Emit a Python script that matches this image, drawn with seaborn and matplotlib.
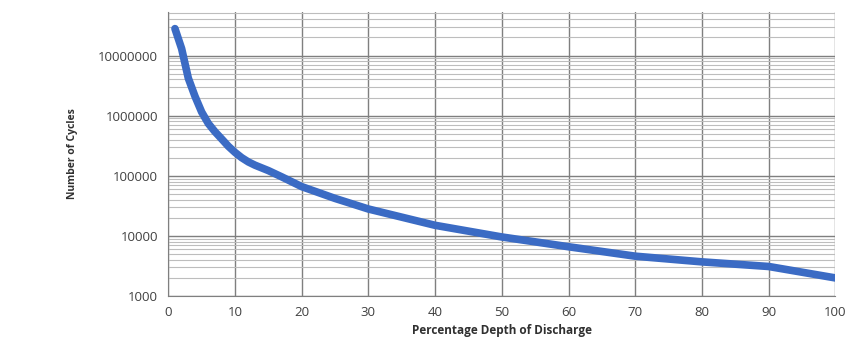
import matplotlib
matplotlib.use("Agg")
import matplotlib.pyplot as plt
import matplotlib.ticker as mticker
import seaborn as sns
import pandas as pd

# === DATA ===
depth_of_discharge = [1, 2, 3, 4, 5, 6, 7, 8, 9, 10, 11, 12, 13, 15, 17, 20, 25, 30, 40, 50, 60, 70, 80, 90, 100]
cycles = [2.8e7, 1.3e7, 4.2e6, 2.1e6, 1.15e6, 7.4e5, 5.4e5, 4.1e5, 3.1e5, 2.45e5, 2.0e5, 1.7e5, 1.5e5, 1.22e5,
          9.6e4, 6.6e4, 4.2e4, 2.8e4, 1.5e4, 9.6e3, 6.6e3, 4.6e3, 3.7e3, 3.1e3, 2.0e3]
y_ticks = [1000, 10000, 100000, 1000000, 10000000]
y_tick_labels = ["1000", "10000", "100000", "1000000", "10000000"]
x_ticks = [0, 10, 20, 30, 40, 50, 60, 70, 80, 90, 100]

df = pd.DataFrame({"DoD": depth_of_discharge, "Cycles": cycles})

sns.set_style("white")
plt.rcParams["font.family"] = ["Open Sans", "DejaVu Sans"]

fig = plt.figure(figsize=(8.63, 3.52), dpi=100)
ax = fig.add_axes([0.195, 0.159, 0.773, 0.807])

sns.lineplot(data=df, x="DoD", y="Cycles", ax=ax, color="#3B6BC4", linewidth=5.5,
             solid_capstyle="round", solid_joinstyle="round")

ax.set_yscale("log")
ax.set_ylim(1000, 5.3e7)
ax.set_xlim(0, 100)

ax.yaxis.set_major_locator(mticker.FixedLocator(y_ticks))
ax.yaxis.set_major_formatter(mticker.FixedFormatter(y_tick_labels))
ax.yaxis.set_minor_locator(mticker.LogLocator(base=10, subs=range(2, 10)))
ax.yaxis.set_minor_formatter(mticker.NullFormatter())
ax.set_xticks(x_ticks)

ax.grid(which="major", axis="both", color="#7f7f7f", linewidth=1.0)
ax.grid(which="minor", axis="y", color="#bdbdbd", linewidth=0.8)
ax.set_axisbelow(True)

for side in ["top", "right"]:
    ax.spines[side].set_visible(False)
for side in ["left", "bottom"]:
    ax.spines[side].set_color("#7f7f7f")

ax.tick_params(axis="both", which="major", direction="inout", length=7, color="#7f7f7f",
               labelsize=9.5, labelcolor="#404040", pad=4)
ax.tick_params(axis="y", which="minor", length=0)

ax.set_xlabel("Percentage Depth of Discharge", fontsize=8.5, fontweight="bold", color="#303030", labelpad=3)
ax.set_ylabel("Number of Cycles", fontsize=7.5, fontweight="bold", color="#303030", labelpad=14)

fig.savefig("out.png", dpi=100)
